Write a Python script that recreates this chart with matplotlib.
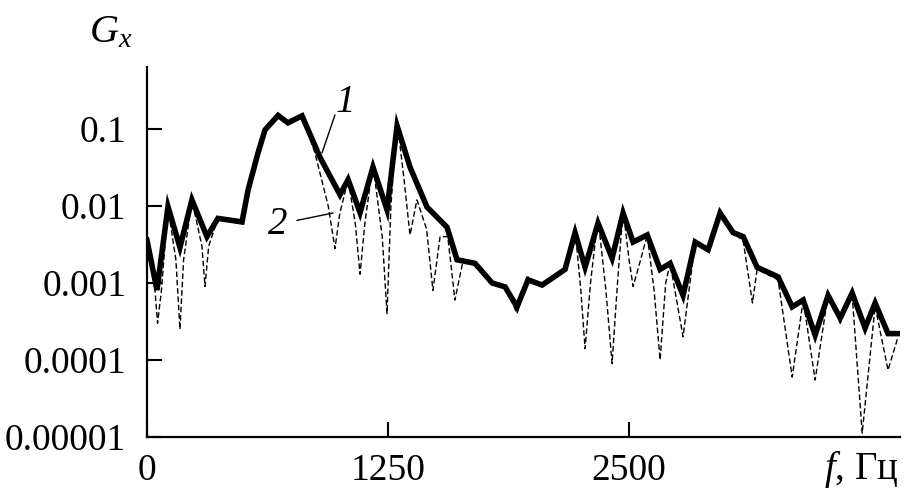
import numpy as np
import matplotlib
matplotlib.use('Agg')
import matplotlib.pyplot as plt

# spectrum 1 (thick solid line): frequency, Hz and G_x
f1 = [0, 52, 109, 171, 233, 311, 368, 493, 524, 576, 612, 680, 731, 804,
      897, 1001, 1043, 1105, 1172, 1245, 1297, 1364, 1452, 1556, 1608, 1701,
      1790, 1857, 1919, 1976, 2049, 2168, 2220, 2272, 2339, 2412, 2469, 2521,
      2594, 2661, 2713, 2780, 2843, 2910, 2972, 3040, 3092, 3164, 3273, 3346,
      3403, 3465, 3532, 3595, 3657, 3724, 3776, 3843, 3895]
g1 = [0.0036, 0.00081, 0.0098, 0.0029, 0.012, 0.0040, 0.0069, 0.0062, 0.016,
      0.049, 0.097, 0.15, 0.12, 0.148, 0.043, 0.014, 0.022, 0.0082, 0.032,
      0.0089, 0.11, 0.032, 0.0097, 0.0053, 0.0020, 0.0018, 0.0010, 0.00089,
      0.00049, 0.0011, 0.00094, 0.0015, 0.0045, 0.0016, 0.0060, 0.0021,
      0.0081, 0.0034, 0.0042, 0.0015, 0.0018, 0.00069, 0.0034, 0.0027,
      0.0081, 0.0045, 0.0040, 0.0016, 0.0012, 0.00049, 0.00060, 0.00021,
      0.00069, 0.00035, 0.00074, 0.00026, 0.00055, 0.00022, 0.00022]

# spectrum 2 (thin dashed line)
f2 = [0, 40, 55, 75, 109, 150, 171, 190, 233, 285, 301, 320, 368, 493, 524,
      576, 612, 680, 731, 804, 870, 940, 975, 1000, 1043, 1080, 1105, 1130,
      1172, 1220, 1245, 1265, 1297, 1335, 1364, 1400, 1450, 1483, 1520, 1560,
      1597, 1640, 1701, 1790, 1857, 1919, 1976, 2049, 2168, 2220, 2250, 2272,
      2300, 2339, 2380, 2412, 2440, 2469, 2500, 2521, 2560, 2594, 2630, 2661,
      2690, 2713, 2780, 2843, 2910, 2972, 3040, 3092, 3140, 3164, 3273, 3346,
      3403, 3465, 3532, 3595, 3657, 3709, 3776, 3843, 3895]
g2 = [0.003, 0.0009, 0.0003, 0.0008, 0.0095, 0.002, 0.00025, 0.002, 0.012,
      0.003, 0.0009, 0.003, 0.0069, 0.0062, 0.016, 0.05, 0.1, 0.16, 0.12,
      0.15, 0.05, 0.01, 0.0028, 0.008, 0.022, 0.006, 0.0013, 0.006, 0.035,
      0.004, 0.0004, 0.01, 0.13, 0.02, 0.0042, 0.012, 0.005, 0.0008, 0.004,
      0.004, 0.0006, 0.002, 0.0018, 0.001, 0.0009, 0.0004, 0.0012, 0.00094,
      0.0015, 0.005, 0.0008, 0.00014, 0.001, 0.007, 0.0008, 0.00009, 0.001,
      0.009, 0.002, 0.0009, 0.002, 0.0042, 0.0008, 0.0001, 0.001, 0.0018,
      0.0002, 0.0034, 0.0025, 0.009, 0.0045, 0.0035, 0.00055, 0.0015, 0.0011,
      0.00006, 0.0006, 0.000055, 0.0007, 0.0003, 0.0007, 0.0000112, 0.0005,
      0.000074, 0.0002]

xticks = [0, 1250, 2500]
yticks = [1e-5, 1e-4, 1e-3, 1e-2, 1e-1]
ytick_labels = ['0.00001', '0.0001', '0.001', '0.01', '0.1']

plt.rcParams['font.family'] = ['Liberation Serif', 'DejaVu Serif']
plt.rcParams['mathtext.fontset'] = 'custom'
plt.rcParams['mathtext.rm'] = 'Liberation Serif'
plt.rcParams['mathtext.it'] = 'Liberation Serif:italic'

fig = plt.figure(figsize=(9.1, 4.98), dpi=100)
ax = fig.add_axes([0.1615, 0.1225, 0.8275, 0.743])

ax.plot(f2, g2, color='black', lw=1.0, ls=(0, (4, 2)))
ax.plot(f1, g1, color='black', lw=4.0, solid_joinstyle='miter')

ax.set_yscale('log')
ax.set_xlim(0, 3905)
ax.set_ylim(1e-5, 0.638)
ax.set_xticks(xticks)
ax.set_xticklabels([str(t) for t in xticks])
ax.set_yticks(yticks)
ax.set_yticklabels(ytick_labels)
ax.yaxis.set_minor_locator(matplotlib.ticker.NullLocator())
ax.tick_params(direction='in', length=11, width=1.5, labelsize=27, pad=12)
ax.tick_params(axis='y', pad=15)

for s in ['top', 'right']:
    ax.spines[s].set_visible(False)
for s in ['left', 'bottom']:
    ax.spines[s].set_linewidth(1.6)

# curve labels with leader lines
ax.text(1027, 0.22, '1', fontsize=28, style='italic', ha='center', va='center')
ax.annotate('', xy=(908, 0.049), xytext=(975, 0.152),
            arrowprops=dict(arrowstyle='-', lw=1.0, color='black',
                            shrinkA=0, shrinkB=0))
ax.text(680, 0.0057, '2', fontsize=28, style='italic', ha='center', va='center')
ax.annotate('', xy=(965, 0.0081), xytext=(778, 0.0065),
            arrowprops=dict(arrowstyle='-', lw=1.0, color='black',
                            shrinkA=0, shrinkB=0))

fig.text(0.122, 0.935, '$G_x$', fontsize=29, ha='center', va='center')
fig.text(0.946, 0.058, '$f$, Гц', fontsize=28, ha='center', va='center')

fig.savefig('out.png', dpi=100)
